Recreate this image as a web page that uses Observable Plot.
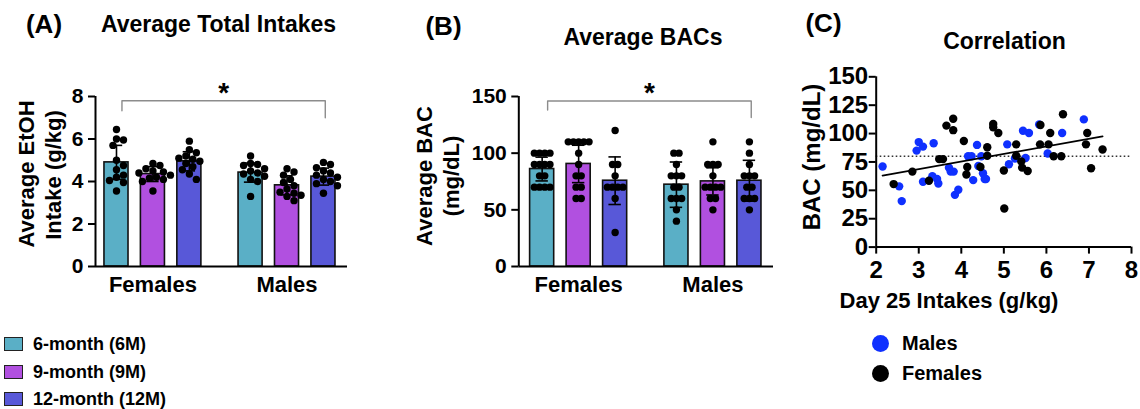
<!DOCTYPE html>
<html>
<head>
<meta charset="utf-8">
<script src="https://cdn.jsdelivr.net/npm/d3@7"></script>
<script src="https://cdn.jsdelivr.net/npm/@observablehq/plot@0.6"></script>
<style>
  html, body { margin: 0; padding: 0; background: #fff; }
  #root { position: relative; width: 1140px; height: 409px; background: #fff; overflow: hidden;
          font-family: "Liberation Sans", Arial, Helvetica, sans-serif; font-weight: bold; color: #000; }
  .pan { position: absolute; top: 0; }
  .t { position: absolute; white-space: nowrap; line-height: 1; transform: translate(-50%, -50%); }
  .tl { position: absolute; white-space: nowrap; line-height: 1; transform: translate(0, -50%); }
  .sw { position: absolute; box-sizing: border-box; border: 1.5px solid #222; }
  .dotl { position: absolute; border-radius: 50%; }
</style>
</head>
<body>
<div id="root"></div>
<script>
// ---------------- DATA ----------------
const sexes = ["Females", "Males"];
const ages = ["6-month (6M)", "9-month (9M)", "12-month (12M)"];
const ageColors = ["#5aafc6", "#b150e0", "#5858d8"];

// Panel A: Average total EtOH intake (g/kg)
const intakeMeanF = [4.9, 4.35, 4.95];
const intakeMeanM = [4.42, 3.82, 4.23];
const intakeSdF = [0.8, 0.35, 0.45];
const intakeSdM = [0.45, 0.45, 0.4];
const intakePtsF6 = [6.45, 6.0, 5.95, 5.7, 5.0, 4.75, 4.55, 4.3, 4.2, 4.05, 3.95, 3.55];
const intakePtsF9 = [4.85, 4.75, 4.6, 4.5, 4.45, 4.4, 4.3, 4.2, 4.15, 4.1, 4.0, 3.55];
const intakePtsF12 = [5.9, 5.5, 5.35, 5.2, 5.1, 5.05, 4.95, 4.85, 4.7, 4.55, 4.35, 4.1];
const intakePtsM6 = [5.2, 4.85, 4.8, 4.75, 4.6, 4.5, 4.4, 4.35, 4.25, 4.1, 4.0, 3.3];
const intakePtsM9 = [4.6, 4.45, 4.3, 4.1, 3.95, 3.8, 3.65, 3.5, 3.45, 3.35, 3.3, 3.1];
const intakePtsM12 = [4.9, 4.8, 4.65, 4.5, 4.4, 4.3, 4.2, 4.1, 4.0, 3.9, 3.8, 3.45];
const intakeTicks = [0, 2, 4, 6, 8];

// Panel B: Average BAC (mg/dL)
const bacMeanF = [86, 90.5, 75.7];
const bacMeanM = [72.2, 75.1, 75.7];
const bacSdF = [10.5, 16.5, 21];
const bacSdM = [20, 12, 18];
const bacPtsF6 = [100, 100, 100, 100, 90, 90, 90, 90, 80, 80, 70, 70, 70, 70];
const bacPtsF9 = [110, 110, 110, 110, 110, 100, 90, 80, 80, 70, 70, 60, 60];
const bacPtsF12 = [120, 90, 90, 80, 70, 70, 70, 70, 60, 30];
const bacPtsM6 = [100, 100, 90, 80, 80, 80, 70, 70, 60, 60, 60, 50, 40];
const bacPtsM9 = [110, 90, 90, 90, 80, 70, 70, 70, 70, 60, 60, 50];
const bacPtsM12 = [110, 100, 90, 80, 80, 80, 70, 70, 60, 60, 60, 50];
const bacTicks = [0, 50, 100, 150];

// Panel C: correlation Day 25 intake vs BAC
const maleX = [2.15,2.54,2.60,2.95,3.00,3.10,3.10,3.35,3.32,3.43,3.46,3.71,3.75,3.82,3.85,3.93,4.16,4.24,4.28,4.37,4.40,4.47,4.51,4.55,4.58,5.08,5.12,5.26,5.45,5.59,5.51,5.83,6.03,6.37,6.88];
const maleY = [71,53.5,40.5,85,92.5,88.5,57.5,91.5,62.5,60,56,70,66.5,66.5,46,50.5,80,80,59,90,71.5,80,65,60,60,90.5,73,78,102.5,100.5,78.5,108,82.5,100.5,112.5];
const femaleX = [2.41,2.85,3.24,3.48,3.57,3.65,3.81,3.81,4.06,4.14,4.12,4.45,4.61,4.61,4.75,4.75,4.87,5.00,5.01,5.29,5.29,5.41,5.43,5.56,5.85,5.86,6.05,6.09,6.17,6.35,6.39,6.96,6.93,7.05,7.32];
const femaleY = [55.5,66.5,58.5,77.5,77.5,107,113,103,93.5,70.5,64,70.5,88,80.5,108.5,105.5,100.5,67.5,34,90.5,80.5,75.5,70,67,90.5,107.5,90.5,100.5,80,80,117,100.5,90.5,69.5,86];
const corrXTicks = [2, 3, 4, 5, 6, 7, 8];
const corrYTicks = [0, 25, 50, 75, 100, 125, 150];
const bacThreshold = [80];
const corrLegend = ["Males", "Females"];
const corrColors = ["#0f30ff", "#000000"];

// ---------------- LAYOUT HELPERS ----------------
const FONT = "'Liberation Sans', Arial, Helvetica, sans-serif";
const GROUP_GAP = 3.68;       // spacing (in bar steps) between the Female and Male groups
const BAR_HALF = 0.33;
const CAP_HALF = 0.17;
const pos = (si, ai) => si * GROUP_GAP + ai;

function swarm(vals, center, xPx, yPx, stepPx) {
  const order = vals.map((v, i) => i).sort((a, b) => vals[b] - vals[a]);
  const placed = [];
  const off = new Array(vals.length);
  for (const i of order) {
    const py = vals[i] * yPx;
    for (let k = 0; k < 60; k++) {
      const cands = k === 0 ? [0] : [k * stepPx / 2, -k * stepPx / 2];
      let found = null;
      for (const c of cands) {
        if (placed.every(p => Math.hypot(p.px - c, p.py - py) >= stepPx - 0.01)) { found = c; break; }
      }
      if (found !== null) { placed.push({px: found, py}); off[i] = found; break; }
    }
  }
  const groups = d3.group(order, i => vals[i]);
  for (const [, idx] of groups) {
    if (idx.length > 1) { const m = d3.mean(idx, i => off[i]); idx.forEach(i => off[i] -= m); }
  }
  return vals.map((v, i) => ({value: v, x: center + off[i] / xPx}));
}

function barPanel({means, sds, pts, ticks, yMax, xDomain, width, marginLeft, marginRight, xPx, yPx,
                   stepPx, bracket, starY}) {
  const rows = [];
  sexes.forEach((s, si) => ages.forEach((a, ai) => rows.push({
    sex: s, age: a, mean: means[si][ai], sd: sds[si][ai], pos: pos(si, ai)
  })));
  const dots = [];
  sexes.forEach((s, si) => ages.forEach((a, ai) => {
    swarm(pts[si][ai], pos(si, ai), xPx, yPx, stepPx).forEach(d => dots.push(d));
  }));
  const groupCenters = sexes.map((s, si) => pos(si, 1));
  const bx1 = pos(0, 0) + 0.15, bx2 = pos(1, 2) + 0.05;
  const bracketPts = [
    {x: bx1, y: bracket[1]}, {x: bx1, y: bracket[0]},
    {x: bx2, y: bracket[0]}, {x: bx2, y: bracket[2]}
  ];
  return Plot.plot({
    width, height: 300,
    marginLeft, marginRight, marginTop: 96, marginBottom: 34,
    style: {fontFamily: FONT, fontWeight: "bold", fontSize: "21px", color: "#000", background: "transparent", overflow: "visible"},
    x: {type: "linear", domain: xDomain},
    y: {domain: [0, yMax]},
    marks: [
      Plot.axisY({ticks, tickSize: 7, tickPadding: 5, strokeWidth: 2, fontSize: 21, fontWeight: "bold",
                  label: null, tickFormat: d => String(d)}),
      Plot.axisX({ticks: groupCenters, tickSize: 0, tickPadding: 10, fontSize: 22, fontWeight: "bold",
                  label: null, tickFormat: d => sexes[groupCenters.indexOf(d)]}),
      Plot.rectY(rows, {x1: d => d.pos - BAR_HALF, x2: d => d.pos + BAR_HALF, y1: 0, y2: "mean",
                        fill: d => ageColors[ages.indexOf(d.age)], stroke: "#111", strokeWidth: 1.6}),
      Plot.ruleX(rows, {x: "pos", y1: d => d.mean - d.sd, y2: d => d.mean + d.sd, stroke: "#000", strokeWidth: 1.6}),
      Plot.ruleY(rows, {y: d => d.mean + d.sd, x1: d => d.pos - CAP_HALF, x2: d => d.pos + CAP_HALF, stroke: "#000", strokeWidth: 1.6}),
      Plot.ruleY(rows, {y: d => d.mean - d.sd, x1: d => d.pos - CAP_HALF, x2: d => d.pos + CAP_HALF, stroke: "#000", strokeWidth: 1.6}),
      Plot.dot(dots, {x: "x", y: "value", r: 3.7, fill: "#000", stroke: "none"}),
      Plot.ruleX([xDomain[0]], {y1: 0, y2: yMax, stroke: "#000", strokeWidth: 2}),
      Plot.ruleY([0], {x1: xDomain[0], x2: xDomain[1], stroke: "#000", strokeWidth: 2}),
      Plot.line(bracketPts, {x: "x", y: "y", stroke: "#8c8c8c", strokeWidth: 1.4}),
      Plot.text([{x: (bx1 + bx2) / 2, y: starY}], {x: "x", y: "y", text: () => "*", fontSize: 28, fontWeight: "bold"})
    ]
  });
}

const root = document.getElementById("root");
function addPanel(svg, left) {
  const wrap = document.createElement("div");
  wrap.className = "pan";
  wrap.style.left = left + "px";
  wrap.appendChild(svg);
  root.appendChild(wrap);
}
function addText(txt, x, y, size, opts = {}) {
  const el = document.createElement("div");
  el.className = opts.left ? "tl" : "t";
  el.textContent = txt;
  el.style.left = x + "px";
  el.style.top = y + "px";
  el.style.fontSize = size + "px";
  if (opts.rotate) el.style.transform = "translate(-50%, -50%) rotate(-90deg)";
  root.appendChild(el);
}

// ---------------- PANEL A ----------------
addPanel(barPanel({
  means: [intakeMeanF, intakeMeanM], sds: [intakeSdF, intakeSdM],
  pts: [[intakePtsF6, intakePtsF9, intakePtsF12], [intakePtsM6, intakePtsM9, intakePtsM12]],
  ticks: intakeTicks, yMax: 8, xDomain: [-0.576, 6.34], width: 380, marginLeft: 95, marginRight: 33,
  xPx: 36.44, yPx: 21.33, stepPx: 7, bracket: [7.8, 7.33, 7.0], starY: 8.14
}), 0);

// ---------------- PANEL B ----------------
addPanel(barPanel({
  means: [bacMeanF, bacMeanM], sds: [bacSdF, bacSdM],
  pts: [[bacPtsF6, bacPtsF9, bacPtsF12], [bacPtsM6, bacPtsM9, bacPtsM12]],
  ticks: bacTicks, yMax: 150, xDomain: [-0.64, 6.34], width: 400, marginLeft: 138.3, marginRight: 7,
  xPx: 36.5, yPx: 1.1356, stepPx: 5.2, bracket: [146, 138, 131.5], starY: 152.9
}), 380);

// ---------------- PANEL C ----------------
const males = maleX.map((x, i) => ({x, y: maleY[i], sex: "Males"}));
const females = femaleX.map((x, i) => ({x, y: femaleY[i], sex: "Females"}));
const allPts = males.concat(females);
addPanel(Plot.plot({
  width: 360, height: 300,
  marginLeft: 95.7, marginRight: 9, marginTop: 76.3, marginBottom: 53.4,
  style: {fontFamily: FONT, fontWeight: "bold", fontSize: "24px", color: "#000", background: "transparent", overflow: "visible"},
  x: {domain: [2, 8]},
  y: {domain: [0, 150]},
  marks: [
    Plot.axisY({ticks: corrYTicks, tickSize: 7, tickPadding: 1, strokeWidth: 2, fontSize: 24, fontWeight: "bold",
                label: null, tickFormat: d => String(d)}),
    Plot.axisX({ticks: corrXTicks, tickSize: 7, tickPadding: 7, strokeWidth: 2, fontSize: 24, fontWeight: "bold",
                label: null, tickFormat: d => String(d)}),
    Plot.ruleY(bacThreshold, {stroke: "#333", strokeWidth: 1.4, strokeDasharray: "1.6,2.4"}),
    Plot.dot(males, {x: "x", y: "y", r: 4.2, fill: corrColors[0], stroke: "none"}),
    Plot.dot(females, {x: "x", y: "y", r: 4.2, fill: corrColors[1], stroke: "none"}),
    Plot.linearRegressionY(allPts, {x: "x", y: "y", ci: 0, stroke: "#000", strokeWidth: 1.8}),
    Plot.ruleX([2], {y1: 0, y2: 150, stroke: "#000", strokeWidth: 2}),
    Plot.ruleY([0], {x1: 2, x2: 8, stroke: "#000", strokeWidth: 2})
  ]
}), 780);

// ---------------- TEXT ----------------
addText("(A)", 44, 24, 26);
addText("Average Total Intakes", 218.5, 24, 23);
addText("(B)", 443.5, 26, 26);
addText("Average BACs", 643, 36.5, 23);
addText("(C)", 823.5, 22.5, 26);
addText("Correlation", 1004.5, 40.5, 23);

addText("Average EtOH", 27, 173.5, 22, {rotate: true});
addText("Intake (g/kg)", 54, 175, 22, {rotate: true});
addText("Average BAC", 425, 175.5, 22, {rotate: true});
addText("(mg/dL)", 451.5, 176, 22, {rotate: true});
addText("BAC (mg/dL)", 812, 156.5, 24, {rotate: true});
addText("Day 25 Intakes (g/kg)", 949, 301, 22);

// legend A
const legYs = [344, 371.5, 398.5];
ages.forEach((a, i) => {
  const sw = document.createElement("div");
  sw.className = "sw";
  sw.style.left = "4px"; sw.style.top = (legYs[i] - 7) + "px";
  sw.style.width = "19px"; sw.style.height = "14px";
  sw.style.background = ageColors[i];
  root.appendChild(sw);
  addText(a, 33, legYs[i], 18, {left: true});
});
// legend C
const legCYs = [343, 373];
corrLegend.forEach((s, i) => {
  const c = document.createElement("div");
  c.className = "dotl";
  c.style.left = (880.7 - 8.5) + "px"; c.style.top = (legCYs[i] - 8.5) + "px";
  c.style.width = "17px"; c.style.height = "17px";
  c.style.background = corrColors[i];
  root.appendChild(c);
  addText(s, 902, legCYs[i], 20, {left: true});
});
</script>
</body>
</html>
